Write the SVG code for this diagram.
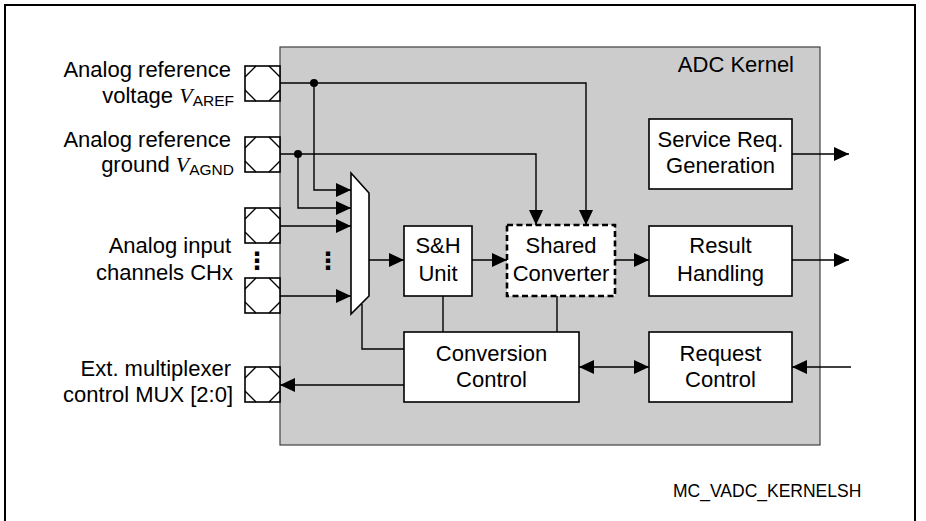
<svg xmlns="http://www.w3.org/2000/svg" width="926" height="521" viewBox="0 0 926 521">
<style>
text{font-family:"Liberation Sans",Arial,sans-serif;font-size:22px;fill:#000}
.lbl{text-anchor:end}
.ctr{text-anchor:middle}
.v{font-family:"Liberation Serif","Times New Roman",serif;font-style:italic}
.sub{font-size:15.5px}
.box{fill:#fff;stroke:#000;stroke-width:1.6}
.pin{fill:#fff;stroke:#000;stroke-width:1.6}
.ln{fill:none;stroke:#000;stroke-width:1.4}
.dots{font-family:"DejaVu Sans",sans-serif;font-size:24px;font-weight:bold;text-anchor:middle}
</style>
<defs>
<marker id="ah" markerUnits="userSpaceOnUse" markerWidth="16" markerHeight="15" refX="15" refY="7" orient="auto-start-reverse">
<path d="M0,0 L15,7 L0,14 z" fill="#000"/>
</marker>
<g id="pinshape">
<rect x="0" y="0" width="35" height="35" class="pin"/>
<path d="M0,11 L11,0 M24,0 L35,11 M35,24 L24,35 M11,35 L0,24" class="ln"/>
</g>
</defs>
<rect width="926" height="521" fill="#fff"/>
<path d="M5,530 V5 H915 V530" fill="none" stroke="#000" stroke-width="2"/>

<g id="kernel">
<rect x="280" y="47" width="540" height="398" fill="#cccccc" stroke="#404040" stroke-width="1.2"/>
<text x="794" y="72" text-anchor="end">ADC Kernel</text>
</g>

<g id="pin-aref">
<use href="#pinshape" x="245" y="66"/>
<text class="lbl" x="231" y="77">Analog reference</text>
<text class="lbl" x="234" y="103">voltage  <tspan class="v">V</tspan><tspan class="sub" dy="3">AREF</tspan></text>
</g>
<g id="pin-agnd">
<use href="#pinshape" x="245" y="137"/>
<text class="lbl" x="231" y="147">Analog reference</text>
<text class="lbl" x="234" y="172">ground  <tspan class="v">V</tspan><tspan class="sub" dy="3">AGND</tspan></text>
</g>
<g id="pin-ch">
<use href="#pinshape" x="245" y="208"/>
<use href="#pinshape" x="245" y="278"/>
<text class="dots" x="257" y="269">⋮</text>
<text class="lbl" x="231" y="253">Analog input</text>
<text class="lbl" x="233" y="280">channels CHx</text>
</g>
<g id="pin-mux">
<use href="#pinshape" x="245" y="367"/>
<text class="lbl" x="231" y="376">Ext. multiplexer</text>
<text class="lbl" x="233" y="402">control MUX [2:0]</text>
</g>

<g id="mux">
<polygon points="351,173 369,193 369,296 351,314" class="box"/>
<text class="dots" x="328" y="269">⋮</text>
</g>

<g id="sh">
<rect x="404" y="226" width="68" height="70" class="box"/>
<text class="ctr" x="438" y="253">S&amp;H</text>
<text class="ctr" x="438" y="281">Unit</text>
</g>
<g id="shared">
<rect x="507" y="225" width="108" height="71" fill="#fff" stroke="#000" stroke-width="2.6" stroke-dasharray="6,3.5"/>
<text class="ctr" x="561" y="253">Shared</text>
<text class="ctr" x="561" y="281">Converter</text>
</g>
<g id="service">
<rect x="649" y="119" width="143" height="70" class="box"/>
<text class="ctr" x="720.5" y="147">Service Req.</text>
<text class="ctr" x="720.5" y="173">Generation</text>
</g>
<g id="result">
<rect x="649" y="226" width="143" height="70" class="box"/>
<text class="ctr" x="720.5" y="253">Result</text>
<text class="ctr" x="720.5" y="281">Handling</text>
</g>
<g id="convctrl">
<rect x="404" y="332" width="175" height="70" class="box"/>
<text class="ctr" x="491.5" y="361">Conversion</text>
<text class="ctr" x="491.5" y="387">Control</text>
</g>
<g id="reqctrl">
<rect x="649" y="332" width="143" height="70" class="box"/>
<text class="ctr" x="720.5" y="361">Request</text>
<text class="ctr" x="720.5" y="387">Control</text>
</g>

<g id="connectors">
<path class="ln" d="M280,83 H586 V225" marker-end="url(#ah)"/>
<path class="ln" d="M314,83 V190 H351" marker-end="url(#ah)"/>
<path class="ln" d="M280,154 H536 V225" marker-end="url(#ah)"/>
<path class="ln" d="M298,154 V208 H351" marker-end="url(#ah)"/>
<path class="ln" d="M280,226 H351" marker-end="url(#ah)"/>
<path class="ln" d="M280,296 H351" marker-end="url(#ah)"/>
<circle cx="314" cy="83" r="4"/>
<circle cx="298" cy="154" r="4"/>
<path class="ln" d="M369,260 H404" marker-end="url(#ah)"/>
<path class="ln" d="M472,260 H507" marker-end="url(#ah)"/>
<path class="ln" d="M615,260 H649" marker-end="url(#ah)"/>
<path class="ln" d="M792,260 H849" marker-end="url(#ah)"/>
<path class="ln" d="M792,154 H849" marker-end="url(#ah)"/>
<path class="ln" d="M851,367 H792" marker-end="url(#ah)"/>
<path class="ln" d="M579,367 H649" marker-start="url(#ah)" marker-end="url(#ah)"/>
<path class="ln" d="M362,304 V349 H404"/>
<path class="ln" d="M404,385 H280" marker-end="url(#ah)"/>
<path class="ln" d="M443,296 V332"/>
<path class="ln" d="M557,296 V332"/>
</g>

<g id="figure-id">
<text x="673" y="497" style="font-size:17.5px">MC_VADC_KERNELSH</text>
</g>
</svg>
